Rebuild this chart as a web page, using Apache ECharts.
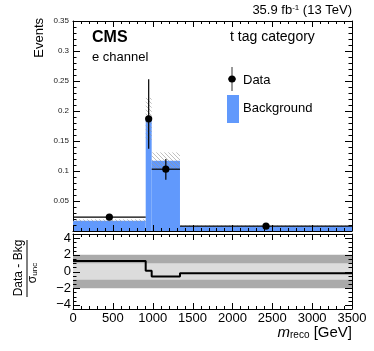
<!DOCTYPE html>
<html>
<head>
<meta charset="utf-8">
<script src="https://cdn.jsdelivr.net/npm/echarts@6/dist/echarts.min.js"></script>
<style>
  html, body { margin: 0; padding: 0; background: #fff; }
  #chart { width: 374px; height: 351px; }
</style>
</head>
<body>
<div id="chart"></div>
<script>
// bin edges in GeV
const binEdges = [0, 912, 987, 1342, 3500]
// background prediction and its uncertainty band
const bkg = [0.017, 0.187, 0.117, 0.008]
const bkgUncLow = [0.0148, 0.152, 0.103, 0.0072]
const bkgUncHigh = [0.0195, 0.222, 0.131, 0.0092]
// observed data with error bars
const dataY = [0.023, 0.187, 0.103, 0.008]
const dataErrLow = [0.020, 0.137, 0.0855, 0.006]
const dataErrHigh = [0.026, 0.253, 0.120, 0.010]
// pull (data - bkg) / sigma
const pull = [1.25, 0.1, -0.6, -0.2]
const pullBands = [[-2, 2, '#aaaaaa'], [-1, 1, '#dcdcdc']]
const pullTicks = [-4, -2, 0, 2, 4]

const blue = '#6199fc'
const font = 'Liberation Sans'

// hatch pattern for the uncertainty band
const hatch = document.createElement('canvas')
hatch.width = 4
hatch.height = 4
const hctx = hatch.getContext('2d')
hctx.strokeStyle = 'rgba(150,150,150,0.6)'
hctx.lineWidth = 1
hctx.beginPath()
hctx.moveTo(0, 0); hctx.lineTo(4, 4)
hctx.moveTo(-2, 2); hctx.lineTo(2, 6)
hctx.moveTo(2, -2); hctx.lineTo(6, 2)
hctx.stroke()

const bins = bkg.map((v, i) => [binEdges[i], binEdges[i + 1], 0, v])
const uncBins = bkg.map((v, i) => [binEdges[i], binEdges[i + 1], bkgUncLow[i], bkgUncHigh[i]])
const dataPts = dataY.map((v, i) => [
  (binEdges[i] + binEdges[i + 1]) / 2, v, binEdges[i], binEdges[i + 1], dataErrLow[i], dataErrHigh[i]
])
const bandRects = pullBands.map(b => [binEdges[0], binEdges[binEdges.length - 1], b[0], b[1], b[2]])
const pullLine = binEdges.map((e, i) => [e, pull[Math.min(i, pull.length - 1)]])

// ROOT style ticks on all four sides: [x, y, 0 = x tick / 1 = y tick, major?]
const xTicks = []
for (let i = 0; i <= 35; i++) xTicks.push([i * 100, 0, 0, i % 5 === 0 ? 1 : 0])
const mainTicks = xTicks.slice()
for (let i = 0; i <= 35; i++) mainTicks.push([0, i / 100, 1, i % 5 === 0 ? 1 : 0])
const ratioTicks = xTicks.slice()
for (let i = -9; i <= 9; i++) ratioTicks.push([0, i / 2, 1, i % 4 === 0 ? 1 : 0])

function tickItem(params, api) {
  const cs = params.coordSys
  const left = cs.x, right = cs.x + cs.width, top = cs.y, bottom = cs.y + cs.height
  const major = api.value(3) === 1
  const st = { stroke: '#000', lineWidth: 1 }
  if (api.value(2) === 0) {
    const px = Math.round(api.coord([api.value(0), 0])[0]) + 0.5
    const len = major ? 6 : 3
    return { type: 'group', children: [
      { type: 'line', shape: { x1: px, y1: bottom, x2: px, y2: bottom - len }, style: st },
      { type: 'line', shape: { x1: px, y1: top, x2: px, y2: top + len }, style: st }
    ] }
  }
  const py = Math.round(api.coord([0, api.value(1)])[1]) + 0.5
  const len = major ? 7 : 3.5
  return { type: 'group', children: [
    { type: 'line', shape: { x1: left, y1: py, x2: left + len, y2: py }, style: st },
    { type: 'line', shape: { x1: right, y1: py, x2: right - len, y2: py }, style: st }
  ] }
}

function rectItem(fill) {
  return function (params, api) {
    const p0 = api.coord([api.value(0), api.value(2)])
    const p1 = api.coord([api.value(1), api.value(3)])
    return {
      type: 'rect',
      shape: { x: p0[0], y: p1[1], width: p1[0] - p0[0], height: p0[1] - p1[1] },
      style: { fill: fill || api.value(4) }
    }
  }
}

function xAx(grid, pos, labels) {
  return {
    type: 'value', gridIndex: grid, position: pos, min: 0, max: 3500, interval: 500,
    axisLine: { show: true, onZero: false, lineStyle: { color: '#000', width: 1 } },
    axisTick: { show: false },
    axisLabel: {
      show: labels, fontSize: 13, color: '#000', fontFamily: font, margin: 3, showMinLabel: true, showMaxLabel: true,
      formatter: v => String(v)
    },
    splitLine: { show: false }
  }
}
function yMain(pos, labels) {
  return {
    type: 'value', gridIndex: 0, position: pos, min: 0, max: 0.35, interval: 0.05,
    axisLine: { show: true, onZero: false, lineStyle: { color: '#000', width: 1 } },
    axisTick: { show: false },
    axisLabel: { show: labels, fontSize: 8, color: '#222', fontFamily: font, margin: 4, showMinLabel: false },
    splitLine: { show: false }
  }
}
function yPull(pos) {
  return {
    type: 'value', gridIndex: 1, position: pos, min: -4.5, max: 4.5,
    axisLine: { show: true, onZero: false, lineStyle: { color: '#000', width: 1 } },
    axisTick: { show: false },
    axisLabel: {
      show: pos === 'left', customValues: pullTicks, fontSize: 13, color: '#000', fontFamily: font, margin: 2,
      formatter: v => String(v).replace('-', '\u2212')
    },
    splitLine: { show: false }
  }
}

const chart = echarts.init(document.getElementById('chart'))
chart.setOption({
  animation: false,
  textStyle: { fontFamily: font },
  grid: [
    { left: 73, right: 22, top: 21, height: 210 },
    { left: 73, right: 22, top: 234, height: 75 }
  ],
  xAxis: [xAx(0, 'bottom', false), xAx(0, 'top', false), xAx(1, 'bottom', true), xAx(1, 'top', false)],
  yAxis: [yMain('left', true), yMain('right', false), yPull('left'), yPull('right')],
  series: [
    {
      type: 'custom', xAxisIndex: 0, yAxisIndex: 0, renderItem: rectItem(blue),
      encode: { x: [0, 1], y: [2, 3] }, data: bins, z: 2
    },
    {
      type: 'custom', xAxisIndex: 0, yAxisIndex: 0, renderItem: rectItem({ image: hatch, repeat: 'repeat' }),
      encode: { x: [0, 1], y: [2, 3] }, data: uncBins, z: 3
    },
    {
      type: 'custom', xAxisIndex: 0, yAxisIndex: 0, z: 4,
      encode: { x: [0, 2, 3], y: [1, 4, 5] }, data: dataPts,
      renderItem: function (params, api) {
        const c = api.coord([api.value(0), api.value(1)])
        const l = api.coord([api.value(2), api.value(1)])
        const r = api.coord([api.value(3), api.value(1)])
        const lo = api.coord([api.value(0), api.value(4)])
        const hi = api.coord([api.value(0), api.value(5)])
        return {
          type: 'group',
          children: [
            { type: 'line', shape: { x1: l[0], y1: c[1], x2: r[0], y2: c[1] }, style: { stroke: '#000', lineWidth: 1.2 } },
            { type: 'line', shape: { x1: c[0], y1: lo[1], x2: c[0], y2: hi[1] }, style: { stroke: '#000', lineWidth: 1.2 } },
            { type: 'circle', shape: { cx: c[0], cy: c[1], r: 3.6 }, style: { fill: '#000' } }
          ]
        }
      }
    },
    {
      type: 'custom', xAxisIndex: 0, yAxisIndex: 0, renderItem: tickItem,
      encode: { x: 0, y: 1 }, data: mainTicks, z: 6, silent: true
    },
    {
      type: 'custom', xAxisIndex: 2, yAxisIndex: 2, renderItem: rectItem(),
      encode: { x: [0, 1], y: [2, 3] }, data: bandRects, z: 1
    },
    {
      type: 'line', xAxisIndex: 2, yAxisIndex: 2, step: 'end', symbol: 'none', data: pullLine,
      lineStyle: { color: '#000', width: 2 }, z: 3
    },
    {
      type: 'custom', xAxisIndex: 2, yAxisIndex: 2, renderItem: tickItem,
      encode: { x: 0, y: 1 }, data: ratioTicks, z: 6, silent: true
    }
  ],
  graphic: [
    { type: 'text', x: 352, y: 10, style: { text: '35.9 fb{sup|-1} (13 TeV)', align: 'right', verticalAlign: 'middle', fill: '#000', font: '13px ' + font,
      rich: { sup: { fontSize: 8, verticalAlign: 'top', fontFamily: font } } } },
    { type: 'text', x: 39, y: 18, rotation: Math.PI / 2, style: { text: 'Events', align: 'right', verticalAlign: 'middle', fill: '#000', font: '13px ' + font } },
    { type: 'text', x: 19, y: 268, rotation: Math.PI / 2, style: { text: 'Data - Bkg', align: 'center', verticalAlign: 'middle', fill: '#000', font: '12px ' + font } },
    { type: 'line', shape: { x1: 27, y1: 240, x2: 27, y2: 297 }, style: { stroke: '#000', lineWidth: 1 } },
    { type: 'text', x: 33, y: 273, rotation: Math.PI / 2, style: { text: '\u03c3{sub|unc}', align: 'center', verticalAlign: 'middle', fill: '#000', font: '12px ' + font,
      rich: { sub: { fontSize: 8, verticalAlign: 'bottom', fontFamily: font } } } },
    { type: 'text', x: 352, y: 333, style: { text: '{i|m}{s|reco}{n| [GeV]}', align: 'right', verticalAlign: 'middle', fill: '#000',
      rich: { i: { fontSize: 15, fontStyle: 'italic', fontFamily: font, verticalAlign: 'bottom' }, s: { fontSize: 10, fontFamily: font, verticalAlign: 'bottom' }, n: { fontSize: 15, fontFamily: font, verticalAlign: 'bottom' } } } },
    { type: 'text', x: 92, y: 38, style: { text: 'CMS', verticalAlign: 'middle', fill: '#000', font: 'bold 16px ' + font } },
    { type: 'text', x: 92, y: 57, style: { text: 'e channel', verticalAlign: 'middle', fill: '#000', font: '13px ' + font } },
    { type: 'text', x: 230, y: 37, style: { text: 't tag category', verticalAlign: 'middle', fill: '#000', font: '14px ' + font } },
    { type: 'line', shape: { x1: 232, y1: 67, x2: 232, y2: 91 }, style: { stroke: '#333', lineWidth: 1 } },
    { type: 'line', shape: { x1: 228, y1: 79, x2: 236, y2: 79 }, style: { stroke: '#000', lineWidth: 1 } },
    { type: 'circle', shape: { cx: 232, cy: 79, r: 3.6 }, style: { fill: '#000' } },
    { type: 'text', x: 243, y: 80, style: { text: 'Data', verticalAlign: 'middle', fill: '#000', font: '13px ' + font } },
    { type: 'rect', shape: { x: 227, y: 95, width: 12, height: 28 }, style: { fill: blue } },
    { type: 'text', x: 243, y: 108, style: { text: 'Background', verticalAlign: 'middle', fill: '#000', font: '13px ' + font } }
  ]
})
</script>
</body>
</html>
